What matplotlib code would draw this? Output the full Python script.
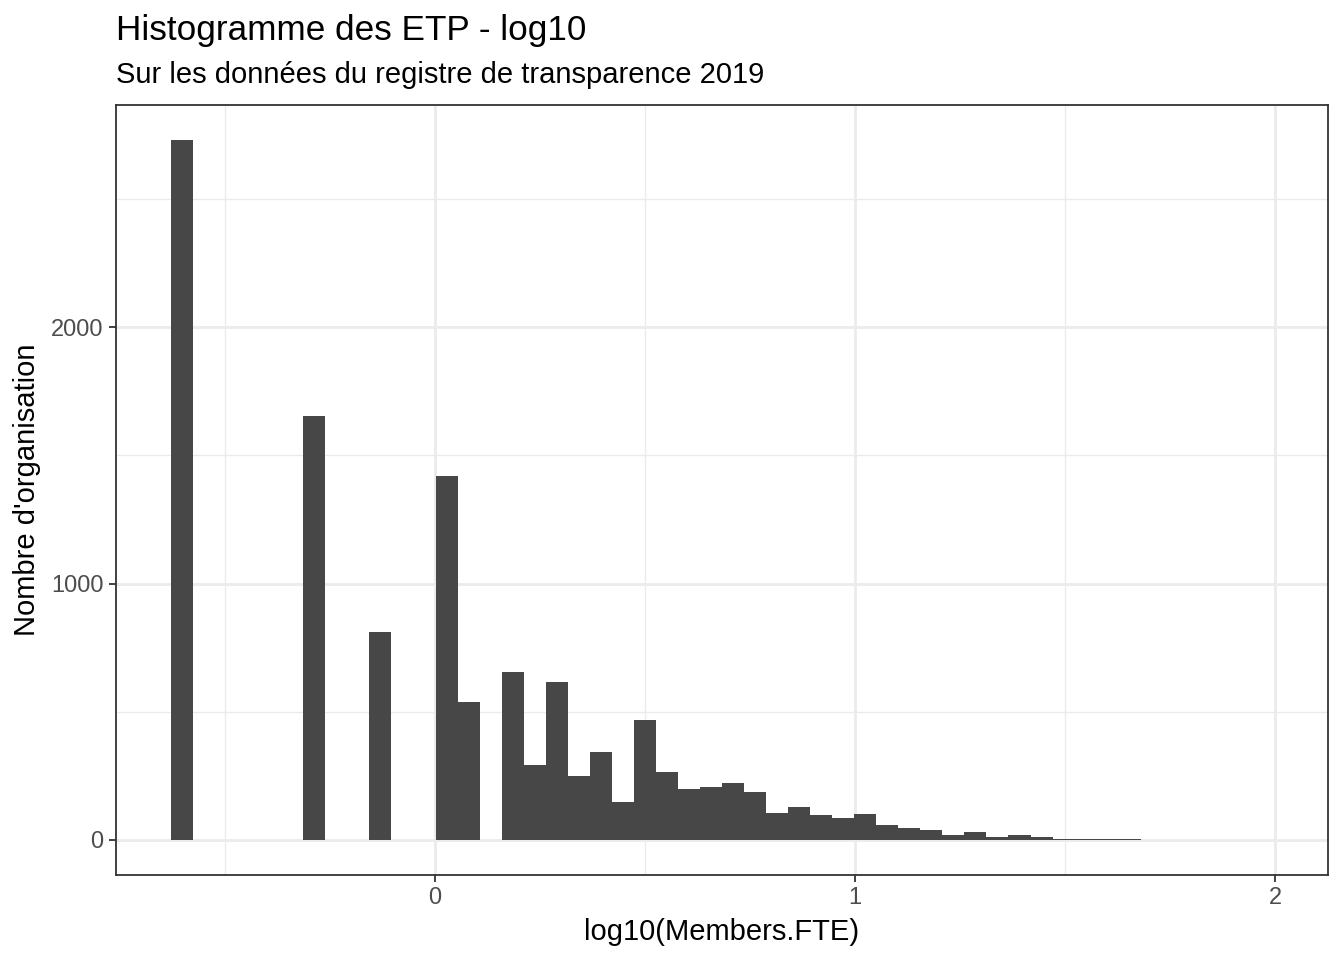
import numpy as np
import matplotlib; matplotlib.use("Agg"); import matplotlib.pyplot as plt
from matplotlib.ticker import MultipleLocator

plt.rcParams["font.family"] = ["Liberation Sans", "DejaVu Sans"]

# histogram: 50 bins, first bin centred on log10(0.25)
BIN_FIRST_CENTER = -0.602
BIN_WIDTH = 0.05246
counts = [2730, 0, 0, 0, 0, 0, 1652, 0, 0, 810,
          0, 0, 1421, 539, 0, 655, 294, 617, 251, 345,
          150, 469, 267, 197, 205, 224, 189, 107, 127, 96,
          84, 100, 60, 48, 40, 21, 32, 13, 21, 13,
          5, 5, 4, 2, 1, 1, 0, 0, 1, 1]

title = "Histogramme des ETP - log10"
subtitle = "Sur les données du registre de transparence 2019"
xlabel = "log10(Members.FTE)"
ylabel = "Nombre d'organisation"

centers = BIN_FIRST_CENTER + BIN_WIDTH * np.arange(len(counts))

W, H = 1344, 960
fig = plt.figure(figsize=(W / 100, H / 100), dpi=100)
ax = fig.add_axes([116 / W, 1 - 875 / H, (1328 - 116) / W, (875 - 105) / H])

ax.bar(centers, counts, width=BIN_WIDTH, color="#474747", linewidth=0, zorder=3)

# ggplot-like expansion (5%)
lo, hi = centers[0] - BIN_WIDTH / 2, centers[-1] + BIN_WIDTH / 2
ax.set_xlim(lo - 0.05 * (hi - lo), hi + 0.05 * (hi - lo))
ymax = max(counts)
ax.set_ylim(-0.05 * ymax, ymax * 1.05)

ax.xaxis.set_major_locator(MultipleLocator(1))
ax.xaxis.set_minor_locator(MultipleLocator(0.5))
ax.yaxis.set_major_locator(MultipleLocator(1000))
ax.yaxis.set_minor_locator(MultipleLocator(500))
ax.grid(True, which="major", color="#EBEBEB", lw=2.0, zorder=0)
ax.grid(True, which="minor", color="#EBEBEB", lw=1.0, zorder=0)
ax.set_axisbelow(True)

for s in ax.spines.values():
    s.set_color("#333333")
    s.set_linewidth(1.3)
ax.tick_params(which="major", length=5, width=1.3, color="#333333",
               labelsize=17, labelcolor="#4D4D4D", pad=4)
ax.tick_params(which="minor", length=0)

ax.set_xlabel(xlabel, fontsize=21, labelpad=6)
ax.set_ylabel(ylabel, fontsize=21, labelpad=7)

fig.text(116 / W, 1 - 40 / H, title, fontsize=25.3, va="baseline", ha="left")
fig.text(116 / W, 1 - 83 / H, subtitle, fontsize=21, va="baseline", ha="left")

fig.savefig("out.png", dpi=100)
